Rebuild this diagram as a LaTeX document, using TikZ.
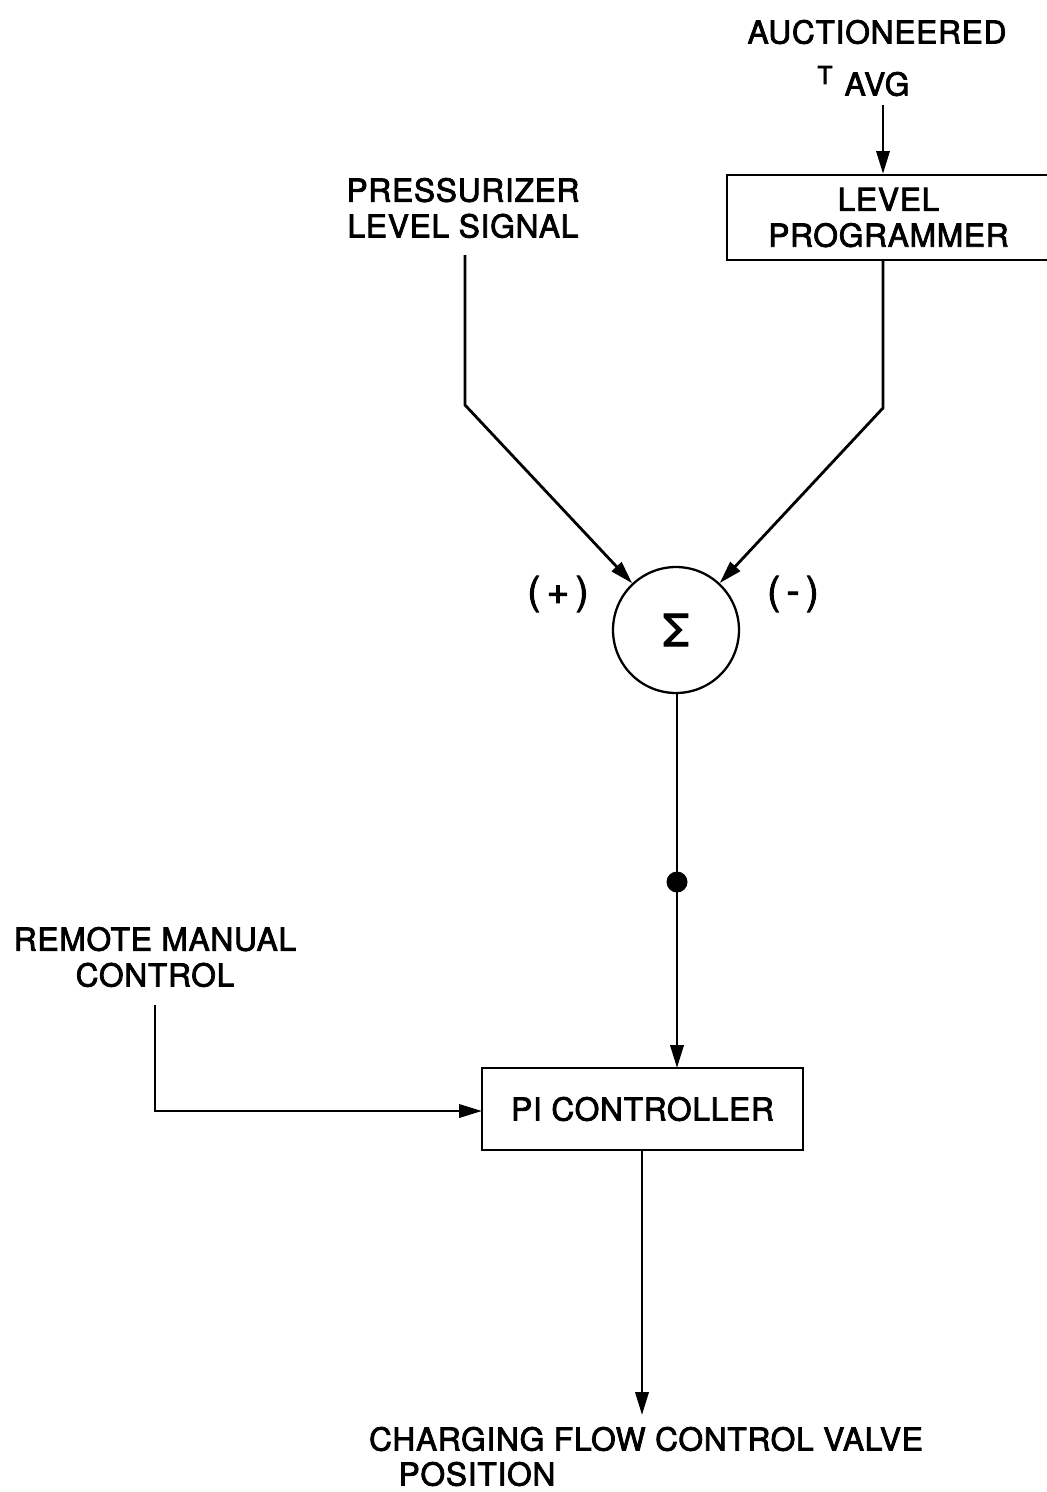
\documentclass[tikz,border=0pt]{standalone}
\usepackage{fontspec}
\setmainfont{TeX Gyre Heros}[FakeBold=2.5, LetterSpace=2.5]
\usetikzlibrary{arrows.meta}
\begin{document}
\begin{tikzpicture}[x=0.02cm,y=-0.02cm,
  lbl/.style={font=\fontsize{18}{20.4}\selectfont, align=center, inner sep=0pt},
  blk/.style={draw, line width=1.3pt, inner sep=0pt, align=center,
              font=\fontsize{18}{20.4}\selectfont},
  conn/.style={line width=1.6pt},
  arr/.style={conn, -{Triangle[length=13pt,width=7.5pt]}}]
\useasboundingbox (0,0) rectangle (1047,1492);

% texts
\node[lbl] (auct) at (877,32) {AUCTIONEERED};
\node[lbl, font=\fontsize{14}{14}\selectfont] (tsym) at (825,75) {T};
\node[lbl] (avg) at (877,84) {AVG};
\node[lbl] (press) at (463,208) {PRESSURIZER\\LEVEL SIGNAL};
\node[lbl] (remote) at (155,957) {REMOTE MANUAL\\CONTROL};
\node[lbl] (charg) at (646,1439) {CHARGING FLOW CONTROL VALVE};
\node[lbl] (posn) at (477,1474) {POSITION};

% blocks
\node[blk, minimum width=6.46cm, minimum height=1.7cm] (lp) at (888.5,217.5) {LEVEL\\PROGRAMMER};
\node[blk, minimum width=6.42cm, minimum height=1.64cm] (pi) at (642.5,1109) {PI CONTROLLER};
\node[draw, circle, line width=1.3pt, minimum size=2.52cm, inner sep=0pt,
      font=\fontsize{25}{25}\selectfont] (sum) at (676,630) {Σ};
\node[lbl, font=\fontsize{22}{22}\selectfont] (plus) at (558,594) {(\,+\,)};
\node[lbl, font=\fontsize{22}{22}\selectfont] (minus) at (793,594) {(\,-\,)};

% coordinates
\coordinate (tin) at (883,105);
\coordinate (lpout) at (883,260);
\coordinate (rbend) at (883,408);
\coordinate (pin) at (465,255);
\coordinate (lbend) at (465,405);
\coordinate (sumout) at (677,693);
\coordinate (piin) at (677,1068);
\coordinate (rin) at (155,1005);
\coordinate (rbend2) at (155,1111);
\coordinate (pileft) at (482,1111);
\coordinate (piout) at (642,1150);
\coordinate (outend) at (642,1415);
\coordinate (dot) at (677,882);

% connectors
\draw[arr] (tin) -- (tin |- lp.north);
\draw[arr] (lpout) -- (rbend) -- (sum);
\draw[arr] (pin) -- (lbend) -- (sum);
\draw[arr] (sumout) -- (piin);
\fill (dot) circle[radius=10.5];
\draw[arr] (rin) -- (rbend2) -- (pileft);
\draw[arr] (piout) -- (outend);
\end{tikzpicture}
\end{document}
